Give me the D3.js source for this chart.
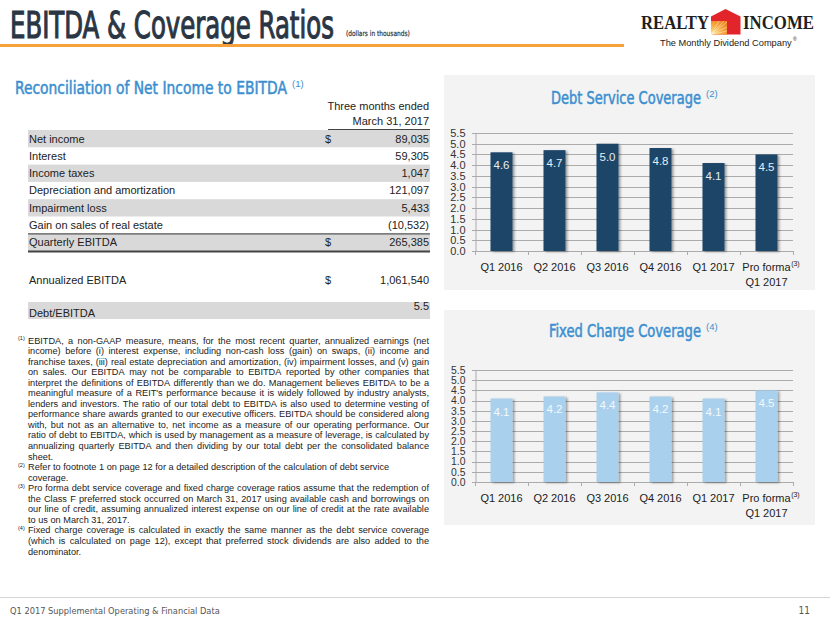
<!DOCTYPE html>
<html><head><meta charset="utf-8">
<script src="https://cdn.jsdelivr.net/npm/d3@7"></script>
<style>
body{margin:0;background:#fff}
svg{display:block}
text{font-family:"Liberation Sans",Arial,sans-serif}
.cond{font-family:"DejaVu Sans Condensed","DejaVu Sans",sans-serif;font-stretch:condensed}
</style>
</head><body>
<svg id="c" width="830" height="623"></svg>
<script>
// ---------- DATA ----------
const quarters = ["Q1 2016","Q2 2016","Q3 2016","Q4 2016","Q1 2017","Pro forma Q1 2017"];
const debtServiceCoverage = [4.6, 4.7, 5.0, 4.8, 4.1, 4.5];
const fixedChargeCoverage = [4.1, 4.2, 4.4, 4.2, 4.1, 4.5];
const yTicks = [0, 0.5, 1, 1.5, 2, 2.5, 3, 3.5, 4, 4.5, 5, 5.5];

const tableLabels = ["Net income","Interest","Income taxes","Depreciation and amortization","Impairment loss","Gain on sales of real estate","Quarterly EBITDA"];
const tableDollar = ["$","","","","","","$"];
const tableValues = ["89,035","59,305","1,047","121,097","5,433","(10,532)","265,385"];
const annualizedLabel = "Annualized EBITDA";
const annualizedValue = "1,061,540";
const debtEbitdaLabel = "Debt/EBITDA";
const debtEbitdaValue = "5.5";

const footnotes = [
  {mark:"(1)", justify:true, lines:[
    "EBITDA, a non-GAAP measure, means, for the most recent quarter, annualized earnings (net",
    "income) before (i) interest expense, including non-cash loss (gain) on swaps, (ii) income and",
    "franchise taxes, (iii) real estate depreciation and amortization, (iv) impairment losses, and (v) gain",
    "on sales. Our EBITDA may not be comparable to EBITDA reported by other companies that",
    "interpret the definitions of EBITDA differently than we do. Management believes EBITDA to be a",
    "meaningful measure of a REIT's performance because it is widely followed by industry analysts,",
    "lenders and investors. The ratio of our total debt to EBITDA is also used to determine vesting of",
    "performance share awards granted to our executive officers. EBITDA should be considered along",
    "with, but not as an alternative to, net income as a measure of our operating performance. Our",
    "ratio of debt to EBITDA, which is used by management as a measure of leverage, is calculated by",
    "annualizing quarterly EBITDA and then dividing by our total debt per the consolidated balance",
    "sheet."]},
  {mark:"(2)", justify:false, lines:[
    "Refer to footnote 1 on page 12 for a detailed description of the calculation of debt service",
    "coverage."]},
  {mark:"(3)", justify:true, lines:[
    "Pro forma debt service coverage and fixed charge coverage ratios assume that the redemption of",
    "the Class F preferred stock occurred on March 31, 2017 using available cash and borrowings on",
    "our line of credit, assuming annualized interest expense on our line of credit at the rate available",
    "to us on March 31, 2017."]},
  {mark:"(4)", justify:true, lines:[
    "Fixed charge coverage is calculated in exactly the same manner as the debt service coverage",
    "(which is calculated on page 12), except that preferred stock dividends are also added to the",
    "denominator."]}
];

// ---------- DRAW ----------
const svg = d3.select("#c");
const defs = svg.append("defs");
const sh = defs.append("filter").attr("id","shadow").attr("x","-30%").attr("y","-10%").attr("width","170%").attr("height","130%");
sh.append("feDropShadow").attr("dx",2).attr("dy",1).attr("stdDeviation",1.3).attr("flood-color","#000").attr("flood-opacity",0.35);
const lg = defs.append("radialGradient").attr("id","sun").attr("cx","0%").attr("cy","100%").attr("r","120%");
lg.append("stop").attr("offset","0%").attr("stop-color","#fde27a");
lg.append("stop").attr("offset","100%").attr("stop-color","#f0851f");

// fit a text horizontally into a width via scale transform
function fitText(sel, x0, width){
  const w = sel.node().getComputedTextLength();
  const s = width / w;
  sel.attr("x", x0).attr("transform", `translate(${x0},0) scale(${s},1) translate(${-x0},0)`);
  return sel;
}

// header
fitText(svg.append("text").attr("class","cond").attr("y",38)
  .style("font-size","37px").attr("fill","#2b3644").attr("stroke","#2b3644").attr("stroke-width",1.1)
  .text("EBITDA & Coverage Ratios"), 10, 324);
fitText(svg.append("text").attr("class","cond").attr("y",36)
  .style("font-size","7.5px").attr("fill","#2b3644").attr("stroke","#2b3644").attr("stroke-width",0.2)
  .text("(dollars in thousands)"), 346, 64);
svg.append("rect").attr("x",0).attr("y",44).attr("width",624).attr("height",3).attr("fill","#f7a13a");

// logo
fitText(svg.append("text").attr("y",29)
  .style("font-family","'Liberation Serif','DejaVu Serif',serif").style("font-size","18px").style("font-weight","bold")
  .attr("fill","#1f1f1f").text("REALTY"), 641, 68);
fitText(svg.append("text").attr("y",29)
  .style("font-family","'Liberation Serif','DejaVu Serif',serif").style("font-size","18px").style("font-weight","bold")
  .attr("fill","#1f1f1f").text("INCOME"), 743, 71);
svg.append("path").attr("d","M725.5,9 L740.5,16.5 L740.5,34.5 L711,34.5 L711,16.5 Z").attr("fill","#e1252b");
svg.append("path").attr("d","M711,21 L727,21 L727,34.5 L711,34.5 Z").attr("fill","url(#sun)");
[[727,22],[727,27],[724,21],[719,21],[727,31]].forEach(p=>{
  svg.append("line").attr("x1",711).attr("y1",34.5).attr("x2",p[0]).attr("y2",p[1]).attr("stroke","#fff").attr("stroke-width",0.6).attr("opacity",0.7);
});
fitText(svg.append("text").attr("y",46)
  .style("font-size","8.5px").attr("fill","#222").text("The Monthly Dividend Company"), 660, 132);
svg.append("text").attr("x",793).attr("y",41).style("font-size","5px").attr("fill","#222").text("®");

// section title
fitText(svg.append("text").attr("class","cond").attr("y",94)
  .style("font-size","17px").attr("fill","#3b8fd0").attr("stroke","#3b8fd0").attr("stroke-width",0.5)
  .text("Reconciliation of Net Income to EBITDA"), 15, 272);
svg.append("text").attr("x",292).attr("y",87).style("font-size","9.5px").attr("fill","#3b8fd0").text("(1)");

// table
const T = {x0:28, x1:430, top:130, rowH:17.3, dollarX:325, valX:429, fs:11};
svg.append("text").attr("x",T.valX).attr("y",110).attr("text-anchor","end").style("font-size","11px").attr("fill","#222").text("Three months ended");
svg.append("text").attr("x",T.valX).attr("y",125).attr("text-anchor","end").style("font-size","11px").attr("fill","#222").text("March 31, 2017");
svg.append("line").attr("x1",328).attr("x2",430).attr("y1",129.5).attr("y2",129.5).attr("stroke","#444").attr("stroke-width",1);

const rows = svg.append("g");
tableLabels.forEach((lab,i)=>{
  const top = T.top + i*T.rowH;
  if (i%2===0) rows.append("rect").attr("x",T.x0).attr("y",top).attr("width",T.x1-T.x0).attr("height",T.rowH).attr("fill","#d9d9d9");
  rows.append("text").attr("x",T.x0+1).attr("y",top+12.5).style("font-size",T.fs+"px").attr("fill","#222").text(lab);
  if (tableDollar[i]) rows.append("text").attr("x",T.dollarX).attr("y",top+12.5).style("font-size",T.fs+"px").attr("fill","#222").text(tableDollar[i]);
  rows.append("text").attr("x",T.valX).attr("y",top+12.5).attr("text-anchor","end").style("font-size",T.fs+"px").attr("fill","#222").text(tableValues[i]);
});
const qTop = T.top + 6*T.rowH;
rows.append("line").attr("x1",T.x0).attr("x2",T.x1).attr("y1",qTop).attr("y2",qTop).attr("stroke","#555").attr("stroke-width",1.2);
rows.append("line").attr("x1",T.x0).attr("x2",T.x1).attr("y1",qTop+T.rowH+0.5).attr("y2",qTop+T.rowH+0.5).attr("stroke","#444").attr("stroke-width",2);

rows.append("text").attr("x",T.x0+1).attr("y",284).style("font-size",T.fs+"px").attr("fill","#222").text(annualizedLabel);
rows.append("text").attr("x",T.dollarX).attr("y",284).style("font-size",T.fs+"px").attr("fill","#222").text("$");
rows.append("text").attr("x",T.valX).attr("y",284).attr("text-anchor","end").style("font-size",T.fs+"px").attr("fill","#222").text(annualizedValue);

rows.append("rect").attr("x",T.x0).attr("y",302).attr("width",T.x1-T.x0).attr("height",17).attr("fill","#d9d9d9");
rows.append("text").attr("x",T.x0+1).attr("y",317).style("font-size",T.fs+"px").attr("fill","#222").text(debtEbitdaLabel);
rows.append("text").attr("x",T.valX).attr("y",310).attr("text-anchor","end").style("font-size",T.fs+"px").attr("fill","#222").text(debtEbitdaValue);

// footnotes
const FN = {x0:28, x1:429, y0:343.5, lh:10.55, fs:9.2};
const fg = svg.append("g").attr("fill","#222");
let li = 0;
const spaceW = (()=>{const t=fg.append("text").style("font-size",FN.fs+"px").text("a a"); const t2=fg.append("text").style("font-size",FN.fs+"px").text("aa"); const w=t.node().getComputedTextLength()-t2.node().getComputedTextLength(); t.remove(); t2.remove(); return w;})();
footnotes.forEach(fn=>{
  fg.append("text").attr("x",18).attr("y",FN.y0 + li*FN.lh - 3.5).style("font-size","5.5px").text(fn.mark);
  fn.lines.forEach((line,k)=>{
    const y = FN.y0 + li*FN.lh;
    const words = line.split(" ");
    const t = fg.append("text").attr("y",y).style("font-size",FN.fs+"px");
    const spans = words.map(w=>t.append("tspan").text(w));
    const widths = spans.map(s=>s.node().getComputedTextLength());
    const total = d3.sum(widths);
    const natural = total + (words.length-1)*spaceW;
    const avail = FN.x1-FN.x0;
    const last = k===fn.lines.length-1;
    let gap = spaceW, scale = 1;
    if (natural > avail) { scale = avail/natural; }
    else if (fn.justify && !last && words.length>1) { gap = (avail-total)/(words.length-1); }
    let x = FN.x0;
    spans.forEach((s,i)=>{ s.attr("x",x); x += widths[i]+gap; });
    if (scale < 1) t.attr("transform",`translate(${FN.x0},0) scale(${scale},1) translate(${-FN.x0},0)`);
    li++;
  });
});

// footer
svg.append("line").attr("x1",0).attr("x2",830).attr("y1",597.5).attr("y2",597.5).attr("stroke","#d4d4d4").attr("stroke-width",1);
fitText(svg.append("text").attr("class","cond").attr("y",614)
  .style("font-size","9.5px").attr("fill","#555").text("Q1 2017 Supplemental Operating & Financial Data"), 10, 210);
svg.append("text").attr("class","cond").attr("x",810).attr("y",614).attr("text-anchor","end").style("font-size","10px").attr("fill","#555").text("11");

// charts
function drawBarChart(cfg){
  const g = svg.append("g");
  g.append("rect").attr("x",444).attr("y",cfg.panelTop).attr("width",371).attr("height",215).attr("fill","#f3f3f3");
  fitText(g.append("text").attr("class","cond").attr("y",cfg.titleY)
    .style("font-size","17px").attr("fill","#3b8fd0").attr("stroke","#3b8fd0").attr("stroke-width",0.5)
    .text(cfg.title), cfg.titleX, cfg.titleW);
  g.append("text").attr("x",cfg.titleX+cfg.titleW+5).attr("y",cfg.titleY-7).style("font-size","9.5px").attr("fill","#3b8fd0").text(cfg.mark);

  const x = d3.scaleBand().domain(quarters).range([475,793]).paddingInner(0.585).paddingOuter(0.2925);
  const y = d3.scaleLinear().domain([0,5.5]).range([cfg.y0,cfg.y1]);

  g.append("g").selectAll("line").data(yTicks).join("line")
    .attr("x1",472).attr("x2",793)
    .attr("y1",d=>Math.round(y(d))+0.5).attr("y2",d=>Math.round(y(d))+0.5)
    .attr("stroke","#ababab").attr("stroke-width",1);

  const ya = g.append("g").attr("transform","translate(475.5,0)")
    .call(d3.axisLeft(y).tickValues(yTicks).tickFormat(d3.format(".1f")).tickSize(0).tickPadding(10));
  ya.select(".domain").attr("stroke","#ababab");
  ya.selectAll("text").style("font-size",cfg.tickFs+"px").attr("fill","#333").style("font-family","'Liberation Sans',Arial,sans-serif");

  const step = x.step();
  g.append("g").selectAll("line").data(d3.range(quarters.length+1)).join("line")
    .attr("x1",d=>475.5+d*step).attr("x2",d=>475.5+d*step)
    .attr("y1",cfg.y0).attr("y2",cfg.y0+4).attr("stroke","#ababab");

  g.append("g").selectAll("rect").data(cfg.values).join("rect")
    .attr("x",(d,i)=>x(quarters[i])).attr("width",x.bandwidth())
    .attr("y",d=>y(d)).attr("height",d=>cfg.y0-y(d))
    .attr("fill",cfg.color).attr("filter","url(#shadow)");

  g.append("g").selectAll("text").data(cfg.values).join("text")
    .attr("x",(d,i)=>x(quarters[i])+x.bandwidth()/2).attr("y",d=>y(d)+17)
    .attr("text-anchor","middle").style("font-size","11.5px").attr("fill",cfg.labelColor)
    .text(d=>d3.format(".1f")(d));

  quarters.forEach((q,i)=>{
    const cx = x(q)+x.bandwidth()/2;
    if (q.startsWith("Pro forma")){
      const t = g.append("text").attr("x",cx).attr("y",cfg.y0+20).attr("text-anchor","middle").style("font-size","11px").attr("fill","#222").text("Pro forma");
      const w = t.node().getComputedTextLength();
      g.append("text").attr("x",cx+w/2+0.5).attr("y",cfg.y0+15).style("font-size","7px").attr("fill","#222").text("(3)");
      g.append("text").attr("x",cx).attr("y",cfg.y0+34.5).attr("text-anchor","middle").style("font-size","11px").attr("fill","#222").text(q.replace("Pro forma ",""));
    } else {
      g.append("text").attr("x",cx).attr("y",cfg.y0+20).attr("text-anchor","middle").style("font-size","11px").attr("fill","#222").text(q);
    }
  });
}

drawBarChart({panelTop:75, y0:251, y1:133, values:debtServiceCoverage, color:"#1b4567", labelColor:"#e6edf3",
  title:"Debt Service Coverage", mark:"(2)", titleX:551, titleY:104, titleW:150, tickFs:11});
drawBarChart({panelTop:310, y0:482, y1:370, values:fixedChargeCoverage, color:"#a9d0ec", labelColor:"#f4f9fd",
  title:"Fixed Charge Coverage", mark:"(4)", titleX:549, titleY:337, titleW:152, tickFs:10.4});
</script>
</body></html>
